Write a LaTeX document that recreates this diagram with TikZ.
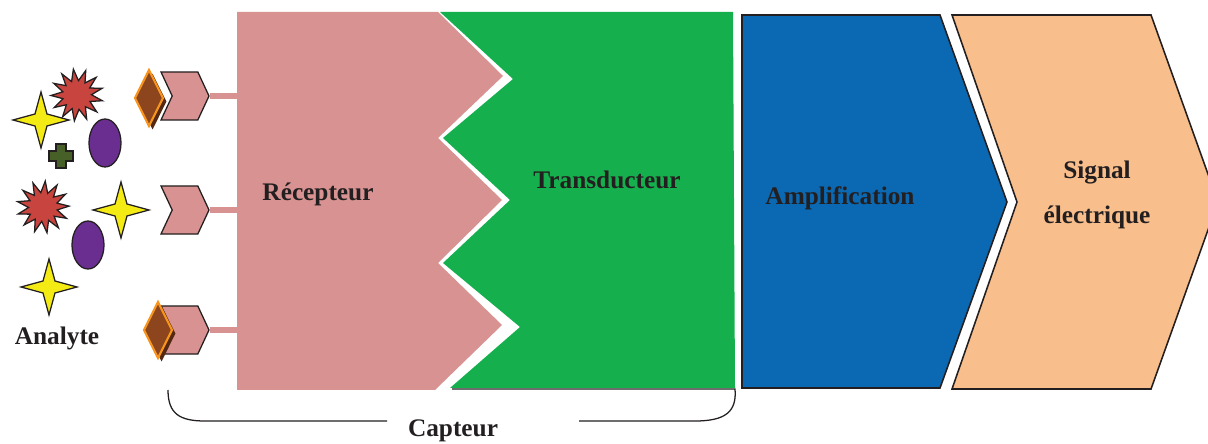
\documentclass[tikz,border=0pt]{standalone}
\usepackage{fontspec}
\setmainfont{Liberation Serif}
\usetikzlibrary{shapes,positioning,shadows}

\definecolor{recpink}{HTML}{D89291}
\definecolor{transgreen}{HTML}{15AF4E}
\definecolor{ampblue}{HTML}{0A69B2}
\definecolor{sigorange}{HTML}{F8BE8B}
\definecolor{txtdark}{HTML}{231F20}
\definecolor{staryellow}{HTML}{F5EB14}
\definecolor{burstred}{HTML}{C8453F}
\definecolor{ovalpurple}{HTML}{6A2E91}
\definecolor{crossgreen}{HTML}{466027}
\definecolor{gembrown}{HTML}{8D451D}
\definecolor{gemorange}{HTML}{F7941D}

\tikzset{
  blocktext/.style={font=\fontsize{18}{21}\selectfont\bfseries, text=txtdark},
  site/.style={signal, signal to=east, signal from=west, signal pointer angle=130,
    draw=txtdark, fill=recpink, line width=0.9pt, minimum width=1.2cm, minimum height=1.2cm, inner sep=0pt},
  bar/.style={recpink, line width=0.16cm},
  gem/.style={diamond, draw=gemorange, fill=gembrown, line width=1.5pt, inner sep=0pt,
    minimum width=0.72cm, minimum height=1.42cm, aspect=0.5,
    drop shadow={shadow xshift=2.5pt, shadow yshift=-2.5pt, fill=gembrown!60!black, opacity=1}},
  sparkle/.style={star, star points=4, star point ratio=3.3, draw=txtdark, fill=staryellow,
    line width=0.9pt, minimum size=1.4cm, inner sep=0pt},
  burst/.style={star, star points=13, star point ratio=1.8, draw=txtdark, fill=burstred,
    line width=0.9pt, minimum size=1.3cm, inner sep=0pt},
  oval/.style={ellipse, draw=txtdark, fill=ovalpurple, line width=0.9pt,
    minimum width=0.8cm, minimum height=1.2cm, inner sep=0pt},
  brace/.style={txtdark, line width=0.9pt}
}

\begin{document}
\begin{tikzpicture}[x=0.025cm, y=-0.025cm]
  \useasboundingbox (0,0) rectangle (1208,444);

  % analytes
  \node[sparkle] (star1) at (41,120) {};
  \node[sparkle] (star2) at (121,210) {};
  \node[sparkle] (star3) at (49,287) {};
  \node[burst, rotate=8] (burst1) at (77,95) {};
  \node[burst, rotate=-5] (burst2) at (43,207) {};
  \node[oval] (oval1) at (105,143) {};
  \node[oval] (oval2) at (88,245) {};
  \filldraw[fill=crossgreen, draw=txtdark, line width=0.9pt]
    (56,144) -- (66,144) -- (66,151) -- (73,151) -- (73,161) -- (66,161) -- (66,168)
    -- (56,168) -- (56,161) -- (49,161) -- (49,151) -- (56,151) -- cycle;
  \node[blocktext] (analyte) at (57,338) {Analyte};

  % receptor sites
  \node[site] (site1) at (185,96) {};
  \node[site] (site2) at (185,210) {};
  \node[site] (site3) at (185,330) {};
  \node[gem] (gem1) at (149,98) {};
  \node[gem] (gem2) at (158,330) {};

  \coordinate (recin) at (240,0);
  \draw[bar] (site1.east) -- (site1.east -| recin);
  \draw[bar] (site2.east) -- (site2.east -| recin);
  \draw[bar] (site3.east) -- (site3.east -| recin);

  % capteur blocks
  \fill[recpink] (237,12) -- (438,12) -- (503,76) -- (438,138) -- (502,200) -- (438,263)
    -- (502,325) -- (435,390) -- (237,390) -- cycle;
  \fill[transgreen] (440,12) -- (733,12) -- (735,388) -- (450,388) -- (520,327) -- (443,263)
    -- (510,200) -- (443,138) -- (513,79) -- cycle;
  \filldraw[fill=ampblue, draw=txtdark, line width=1.1pt]
    (742,15) -- (940,15) -- (1007,202) -- (940,388) -- (742,388) -- cycle;
  \filldraw[fill=sigorange, draw=txtdark, line width=1.1pt]
    (952,15) -- (1151,15) -- (1218,202) -- (1151,389) -- (952,389) -- (1017,202) -- cycle;

  \node[blocktext] (rec) at (318,194) {Récepteur};
  \node[blocktext] (trans) at (607,180) {Transducteur};
  \node[blocktext] (amp) at (840,198) {Amplification};
  \node[blocktext, align=center, font=\fontsize{18}{32}\selectfont\bfseries] (sig) at (1097,195) {Signal\\électrique};

  % capteur brace
  \node[blocktext] (capteur) at (453,431) {Capteur};
  \coordinate (braceL) at (168,390);
  \coordinate (braceR) at (452,389);
  \draw[brace] (braceL) .. controls (168,414) and (180,421) .. (205,421) -- (387,421);
  \draw[brace] (braceR) -- (735,389) .. controls (737,412) and (725,421) .. (695,421) -- (579,421);
\end{tikzpicture}
\end{document}
